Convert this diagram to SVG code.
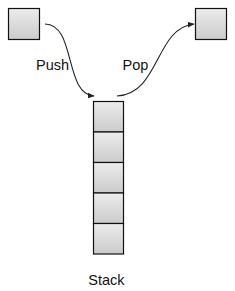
<svg xmlns="http://www.w3.org/2000/svg" width="235" height="291" viewBox="0 0 235 291">
<style>
.box{fill:url(#g);stroke:#111;stroke-width:1.2}
.lbl{font-family:"Liberation Sans",Arial,sans-serif;font-size:14.5px;fill:#111}
.con{fill:none;stroke:#222;stroke-width:1.1}
</style>
<defs>
<linearGradient id="g" x1="0" y1="0" x2="0" y2="1">
<stop offset="0" stop-color="#ececec"/>
<stop offset="1" stop-color="#cbcbcb"/>
</linearGradient>
<marker id="ah" viewBox="0 0 10 10" refX="9" refY="5" markerWidth="7" markerHeight="7" markerUnits="userSpaceOnUse" orient="auto">
<path d="M0,1 L10,5 L0,9 Z" fill="#222"/>
</marker>
</defs>
<rect width="235" height="291" fill="#fff"/>
<g id="connectors">
<path class="con" d="M45,24 C76,24 64,94 94,96" marker-end="url(#ah)"/>
<path class="con" d="M117,96 C160,94 155,28 194,24" marker-end="url(#ah)"/>
</g>
<g id="src"><rect class="box" x="8.5" y="8.5" width="31" height="31"/></g>
<g id="dst"><rect class="box" x="195.5" y="8.5" width="31" height="31"/></g>
<g id="stack">
<rect class="box" x="93.5" y="101.5" width="30" height="30.5"/>
<rect class="box" x="93.5" y="132" width="30" height="30.5"/>
<rect class="box" x="93.5" y="162.5" width="30" height="30.5"/>
<rect class="box" x="93.5" y="193" width="30" height="30.5"/>
<rect class="box" x="93.5" y="223.5" width="30" height="30.5"/>
</g>
<text class="lbl" x="36" y="70">Push</text>
<text class="lbl" x="122.5" y="69.5">Pop</text>
<text class="lbl" x="106.5" y="285" text-anchor="middle">Stack</text>
</svg>
